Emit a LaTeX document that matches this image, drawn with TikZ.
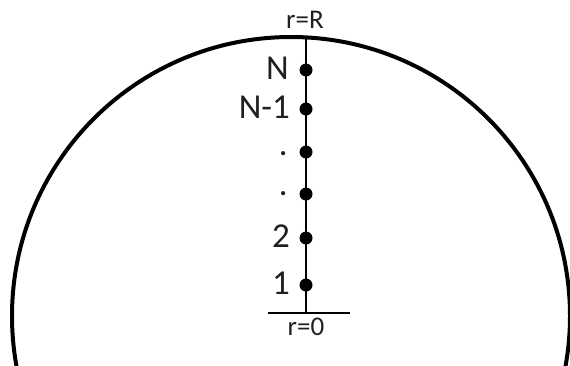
\documentclass[tikz,border=0pt]{standalone}
\usepackage{fontspec}
\setmainfont{Carlito}
\begin{document}
\begin{tikzpicture}[x=1pt,y=-1pt,
  pt/.style={circle,fill=black,inner sep=0pt,minimum size=13pt},
  lab/.style={anchor=east,inner sep=0pt,text height=0.63em,text depth=0pt,text=black!88,font=\fontsize{35}{35}\selectfont},
  small/.style={inner sep=0pt,text height=0.63em,text depth=0pt,text=black!88,font=\fontsize{27}{27}\selectfont}]
\useasboundingbox (0,0) rectangle (570,365);
\begin{scope}
\clip (0,0) rectangle (570,365);
\draw[line width=4pt] (291,316) circle[radius=279];
\end{scope}
\coordinate (top) at (306,37);
\coordinate (base) at (306,313);
\coordinate (bl) at (268,313);
\coordinate (br) at (350,313);
\draw[line width=1.6pt] (top) -- (base);
\draw[line width=1.6pt] (bl) -- (br);
\node[pt] (dN) at (306,70) {};
\node[pt] (dN1) at (306,109) {};
\node[pt] (dA) at (306,152) {};
\node[pt] (dB) at (306,194) {};
\node[pt] (d2) at (306,238) {};
\node[pt] (d1) at (306,285) {};
\node[lab] (lN) at (289,76) {N};
\node[lab] (lN1) at (290,115) {N-1};
\node[lab] (lA) at (288,152) {.};
\node[lab] (lB) at (288,192) {.};
\node[lab] (l2) at (290,244) {2};
\node[lab] (l1) at (290,291) {1};
\node[small] (rR) at (305,25) {r=R};
\node[small] (r0) at (306,332) {r=0};
\end{tikzpicture}
\end{document}
